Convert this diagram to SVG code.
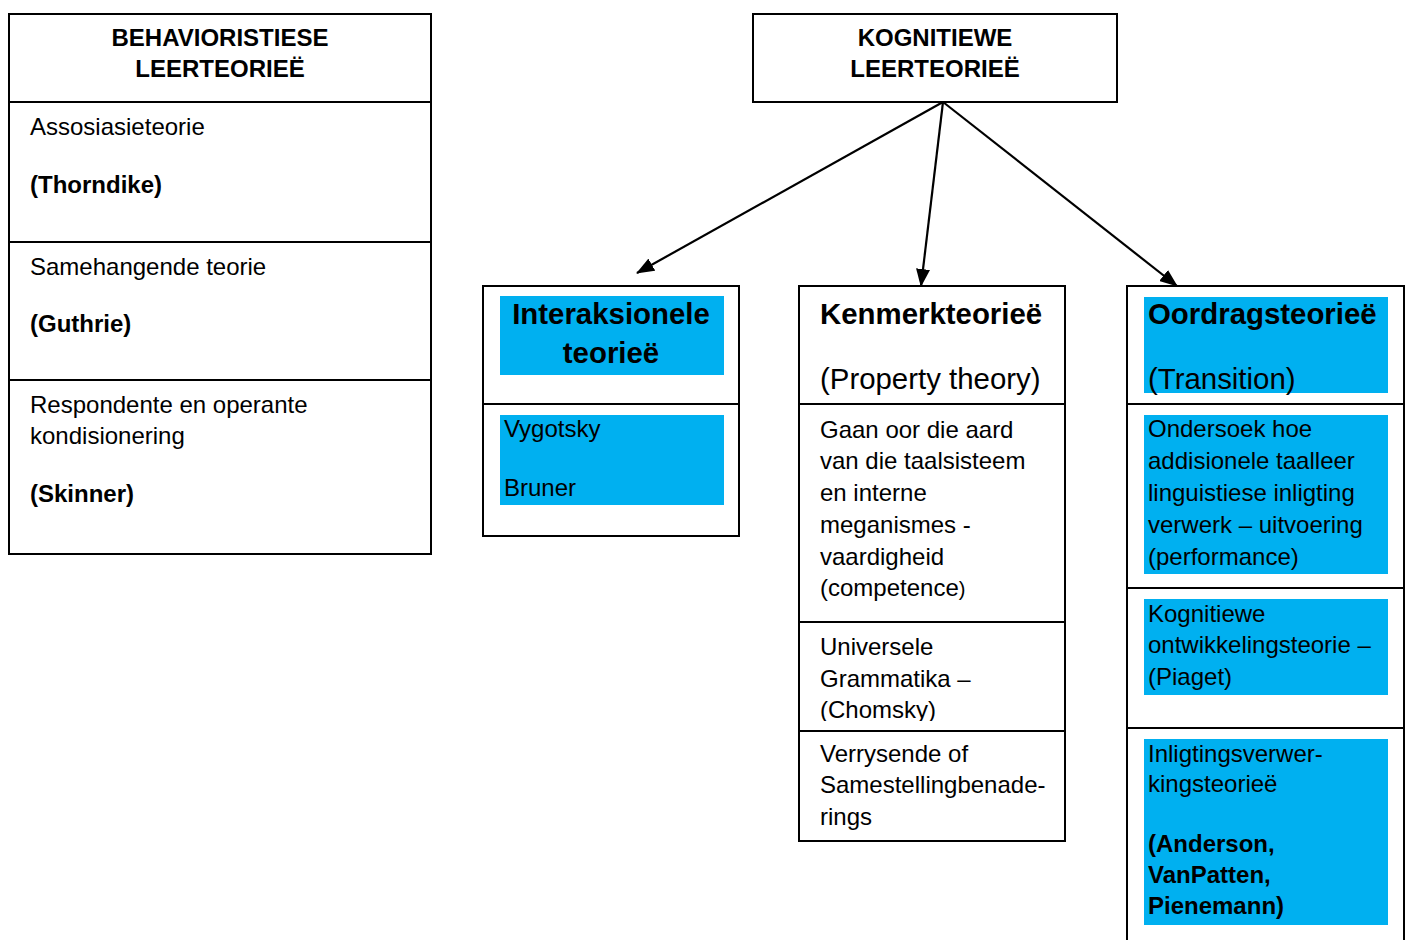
<svg xmlns="http://www.w3.org/2000/svg" width="1410" height="940" viewBox="0 0 1410 940">
<style>
text{font-family:"Liberation Sans",Arial,sans-serif;fill:#000}
.t{font-size:24px}
.h{font-size:24px;font-weight:bold;text-anchor:middle}
.b{font-weight:bold}
.big{font-size:29.4px}
.box{fill:#fff;stroke:#000;stroke-width:2}
.sep{stroke:#000;stroke-width:2}
.blue{fill:#00B0F0}
.arr{stroke:#000;stroke-width:2.2;fill:none;marker-end:url(#ah)}
</style>
<defs>
<marker id="ah" markerUnits="userSpaceOnUse" markerWidth="18" markerHeight="14" refX="17" refY="7" orient="auto">
<path d="M0,0 L18,7 L0,14 Z" fill="#000"/>
</marker>
<clipPath id="cChom"><rect x="800" y="623" width="264" height="98"/></clipPath>
</defs>
<rect width="1410" height="940" fill="#fff"/>

<g id="behavioristiese">
<rect class="box" x="9" y="14" width="422" height="540"/>
<line class="sep" x1="9" y1="102" x2="431" y2="102"/>
<line class="sep" x1="9" y1="242" x2="431" y2="242"/>
<line class="sep" x1="9" y1="380" x2="431" y2="380"/>
<text class="h" x="220" y="46">BEHAVIORISTIESE</text>
<text class="h" x="220" y="77">LEERTEORIEË</text>
<text class="t" x="30" y="135">Assosiasieteorie</text>
<text class="t b" x="30" y="193">(Thorndike)</text>
<text class="t" x="30" y="275">Samehangende teorie</text>
<text class="t b" x="30" y="332">(Guthrie)</text>
<text class="t" x="30" y="413">Respondente en operante</text>
<text class="t" x="30" y="444">kondisionering</text>
<text class="t b" x="30" y="502">(Skinner)</text>
</g>

<g id="kognitiewe">
<rect class="box" x="753" y="14" width="364" height="88"/>
<text class="h" x="935" y="46">KOGNITIEWE</text>
<text class="h" x="935" y="77">LEERTEORIEË</text>
</g>

<g id="connectors">
<line class="arr" x1="943" y1="102" x2="637" y2="273"/>
<line class="arr" x1="943" y1="102" x2="921" y2="286"/>
<line class="arr" x1="943" y1="102" x2="1177" y2="286"/>
</g>

<g id="interaksionele">
<rect class="box" x="483" y="286" width="256" height="250"/>
<line class="sep" x1="483" y1="404" x2="739" y2="404"/>
<rect class="blue" x="500" y="296" width="224" height="79"/>
<rect class="blue" x="500" y="415" width="224" height="90"/>
<text class="big b" x="611" y="324" text-anchor="middle">Interaksionele</text>
<text class="big b" x="611" y="363" text-anchor="middle">teorieë</text>
<text class="t" x="504" y="437">Vygotsky</text>
<text class="t" x="504" y="496">Bruner</text>
</g>

<g id="kenmerk">
<rect class="box" x="799" y="286" width="266" height="555"/>
<line class="sep" x1="799" y1="404" x2="1065" y2="404"/>
<line class="sep" x1="799" y1="622" x2="1065" y2="622"/>
<line class="sep" x1="799" y1="731" x2="1065" y2="731"/>
<text class="big b" x="820" y="324">Kenmerkteorieë</text>
<text class="big" x="820" y="389">(Property theory)</text>
<text class="t" x="820" y="438">Gaan oor die aard</text>
<text class="t" x="820" y="469">van die taalsisteem</text>
<text class="t" x="820" y="501">en interne</text>
<text class="t" x="820" y="533">meganismes -</text>
<text class="t" x="820" y="565">vaardigheid</text>
<text class="t" x="820" y="596">(competence<tspan font-size="20">)</tspan></text>
<g clip-path="url(#cChom)">
<text class="t" x="820" y="655">Universele</text>
<text class="t" x="820" y="687">Grammatika –</text>
<text class="t" x="820" y="718">(Chomsky)</text>
</g>
<text class="t" x="820" y="762">Verrysende of</text>
<text class="t" x="820" y="793">Samestellingbenade-</text>
<text class="t" x="820" y="825">rings</text>
</g>

<g id="oordrag">
<rect class="box" x="1127" y="286" width="277" height="670"/>
<line class="sep" x1="1127" y1="404" x2="1404" y2="404"/>
<line class="sep" x1="1127" y1="588" x2="1404" y2="588"/>
<line class="sep" x1="1127" y1="728" x2="1404" y2="728"/>
<rect class="blue" x="1144" y="297" width="244" height="96"/>
<rect class="blue" x="1144" y="415" width="244" height="159"/>
<rect class="blue" x="1144" y="599" width="244" height="96"/>
<rect class="blue" x="1144" y="739" width="244" height="186"/>
<text class="big b" x="1148" y="324">Oordragsteorieë</text>
<text class="big" x="1148" y="389">(Transition)</text>
<text class="t" x="1148" y="437">Ondersoek hoe</text>
<text class="t" x="1148" y="469">addisionele taalleer</text>
<text class="t" x="1148" y="501">linguistiese inligting</text>
<text class="t" x="1148" y="533">verwerk – uitvoering</text>
<text class="t" x="1148" y="565">(performance)</text>
<text class="t" x="1148" y="622">Kognitiewe</text>
<text class="t" x="1148" y="653">ontwikkelingsteorie –</text>
<text class="t" x="1148" y="685">(Piaget)</text>
<text class="t" x="1148" y="762">Inligtingsverwer-</text>
<text class="t" x="1148" y="792">kingsteorieë</text>
<text class="t b" x="1148" y="852">(Anderson,</text>
<text class="t b" x="1148" y="883">VanPatten,</text>
<text class="t b" x="1148" y="914">Pienemann)</text>
</g>
</svg>
